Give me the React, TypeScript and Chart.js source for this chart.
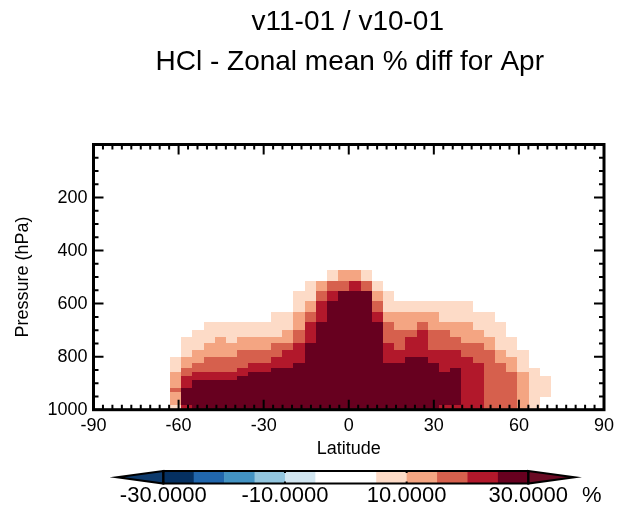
import React, { useEffect, useRef } from 'react';
import { Chart, registerables } from 'chart.js';

Chart.register(...registerables);

const titleLines = ['v11-01 / v10-01', 'HCl - Zonal mean % diff for Apr'];
const xAxisTitle = 'Latitude';
const yAxisTitle = 'Pressure (hPa)';

// latitude cell edges (deg)
const latEdges = [
  -63.0, -59.0, -55.1, -51.2, -47.2, -43.3, -39.3, -35.4, -31.4, -27.5, -23.5, -19.6,
  -15.6, -11.7, -7.7, -3.8, 0.2, 4.2, 8.1, 12.1, 16.0, 20.0, 23.9, 27.9, 31.8, 35.8,
  39.7, 43.7, 47.6, 51.6, 55.5, 59.5, 63.4, 67.4, 71.3,
];

// pressure cell edges (hPa), top to bottom
const pressureEdges = [
  475, 515, 553, 591, 630, 669, 700, 725, 750, 775, 800, 825, 842, 858, 874, 889, 903,
  918, 935, 951, 967, 983, 1000,
];

// colour levels (%)
const levels = [-30, -25, -20, -15, -10, -5, 0, 5, 10, 15, 20, 25, 30];
const levelColors = [
  '#053061', '#2166ac', '#4393c3', '#92c5de', '#d1e5f0', '#ffffff',
  '#ffffff', '#fddbc7', '#f4a582', '#d6604d', '#b2182b', '#67001f',
];
const underColor = '#0d3a6c';
const overColor = '#6a0a24';
const colorbarLabelValues = [-30, -10, 10, 30];
const colorbarLabels = ['-30.0000', '-10.0000', '10.0000', '30.0000'];
const colorbarUnit = '%';

// % difference per latitude cell, listed from the top pressure cell down to 1000 hPa
const diffByLat = [
  [0, 0, 0, 0, 0, 0, 0, 0, 0, 0, 7, 7, 7, 12, 12, 12, 12, 17, 12, 12, 12, 7],
  [0, 0, 0, 0, 0, 0, 0, 7, 7, 7, 12, 12, 17, 17, 22, 22, 22, 27, 27, 27, 27, 22],
  [0, 0, 0, 0, 0, 0, 7, 7, 7, 12, 12, 17, 17, 22, 22, 27, 27, 27, 27, 27, 27, 27],
  [0, 0, 0, 0, 0, 7, 7, 7, 12, 12, 17, 17, 17, 22, 22, 27, 27, 27, 27, 27, 27, 27],
  [0, 0, 0, 0, 0, 7, 7, 12, 12, 12, 17, 17, 17, 22, 22, 27, 27, 27, 27, 27, 27, 27],
  [0, 0, 0, 0, 0, 7, 7, 7, 12, 12, 17, 17, 17, 22, 22, 27, 27, 27, 27, 27, 27, 27],
  [0, 0, 0, 0, 0, 7, 7, 12, 12, 17, 17, 17, 22, 22, 27, 27, 27, 27, 27, 27, 27, 27],
  [0, 0, 0, 0, 0, 7, 7, 12, 12, 17, 17, 22, 22, 27, 27, 27, 27, 27, 27, 27, 27, 27],
  [0, 0, 0, 0, 0, 7, 7, 12, 12, 17, 17, 22, 22, 27, 27, 27, 27, 27, 27, 27, 27, 27],
  [0, 0, 0, 0, 7, 7, 7, 12, 17, 17, 22, 22, 27, 27, 27, 27, 27, 27, 27, 27, 27, 27],
  [0, 0, 0, 0, 7, 7, 12, 12, 17, 22, 22, 22, 27, 27, 27, 27, 27, 27, 27, 27, 27, 27],
  [0, 0, 7, 7, 12, 12, 17, 17, 22, 22, 22, 27, 27, 27, 27, 27, 27, 27, 27, 27, 27, 27],
  [0, 7, 7, 12, 17, 22, 22, 22, 27, 27, 27, 27, 27, 27, 27, 27, 27, 27, 27, 27, 27, 27],
  [0, 12, 17, 22, 22, 27, 27, 27, 27, 27, 27, 27, 27, 27, 27, 27, 27, 27, 27, 27, 27, 27],
  [7, 17, 22, 27, 27, 27, 27, 27, 27, 27, 27, 27, 27, 27, 27, 27, 27, 27, 27, 27, 27, 27],
  [12, 17, 27, 27, 27, 27, 27, 27, 27, 27, 27, 27, 27, 27, 27, 27, 27, 27, 27, 27, 27, 27],
  [12, 22, 27, 27, 27, 27, 27, 27, 27, 27, 27, 27, 27, 27, 27, 27, 27, 27, 27, 27, 27, 27],
  [7, 17, 27, 27, 27, 27, 27, 27, 27, 27, 27, 27, 27, 27, 27, 27, 27, 27, 27, 27, 27, 27],
  [0, 7, 12, 17, 22, 27, 27, 27, 27, 27, 27, 27, 27, 27, 27, 27, 27, 27, 27, 27, 27, 27],
  [0, 0, 7, 7, 12, 17, 17, 17, 22, 22, 22, 27, 27, 27, 27, 27, 27, 27, 27, 27, 27, 27],
  [0, 0, 0, 7, 12, 12, 17, 17, 17, 22, 22, 27, 27, 27, 27, 27, 27, 27, 27, 27, 27, 27],
  [0, 0, 0, 7, 12, 12, 17, 22, 22, 22, 27, 27, 27, 27, 27, 27, 27, 27, 27, 27, 27, 27],
  [0, 0, 0, 7, 12, 17, 22, 22, 22, 22, 27, 27, 27, 27, 27, 27, 27, 27, 27, 27, 27, 27],
  [0, 0, 0, 7, 12, 12, 17, 17, 17, 22, 22, 27, 27, 27, 27, 27, 27, 27, 27, 27, 27, 27],
  [0, 0, 0, 7, 7, 12, 17, 17, 17, 22, 22, 22, 22, 27, 27, 27, 27, 27, 27, 27, 27, 22],
  [0, 0, 0, 7, 7, 12, 12, 17, 17, 22, 22, 22, 27, 27, 27, 27, 27, 27, 27, 27, 27, 22],
  [0, 0, 0, 7, 7, 12, 12, 12, 17, 17, 22, 22, 22, 22, 22, 22, 22, 22, 22, 22, 22, 22],
  [0, 0, 0, 0, 7, 7, 12, 12, 17, 17, 17, 22, 22, 22, 22, 22, 22, 22, 22, 22, 22, 22],
  [0, 0, 0, 0, 7, 7, 7, 12, 12, 17, 17, 17, 17, 17, 17, 17, 17, 17, 17, 17, 17, 17],
  [0, 0, 0, 0, 0, 7, 7, 7, 7, 12, 12, 17, 17, 17, 17, 17, 17, 17, 17, 17, 17, 17],
  [0, 0, 0, 0, 0, 0, 0, 7, 7, 7, 12, 12, 12, 17, 17, 17, 17, 17, 17, 17, 17, 17],
  [0, 0, 0, 0, 0, 0, 0, 0, 0, 7, 7, 7, 7, 12, 12, 12, 12, 12, 12, 12, 12, 12],
  [0, 0, 0, 0, 0, 0, 0, 0, 0, 0, 0, 0, 7, 7, 7, 7, 7, 7, 7, 7, 7, 7],
  [0, 0, 0, 0, 0, 0, 0, 0, 0, 0, 0, 0, 0, 0, 7, 7, 7, 7, 7, 0, 0, 0],
];

const FONT = '"Liberation Sans", Arial, Helvetica, sans-serif';

function colorFor(v: number): string | null {
  if (v < levels[0]) return underColor;
  if (v >= levels[levels.length - 1]) return overColor;
  for (let i = 0; i < levels.length - 1; i++) {
    if (v >= levels[i] && v < levels[i + 1]) {
      const c = levelColors[i];
      return c === '#ffffff' ? null : c;
    }
  }
  return null;
}

const cellPlugin = {
  id: 'cells',
  beforeDatasetsDraw(chart: any) {
    const { ctx, chartArea } = chart;
    const xs = chart.scales.x;
    const ys = chart.scales.y;
    ctx.save();
    ctx.beginPath();
    ctx.rect(chartArea.left, chartArea.top, chartArea.right - chartArea.left, chartArea.bottom - chartArea.top);
    ctx.clip();
    for (let c = 0; c < diffByLat.length; c++) {
      const x0 = Math.round(xs.getPixelForValue(latEdges[c]));
      const x1 = Math.round(xs.getPixelForValue(latEdges[c + 1]));
      const col = diffByLat[c];
      for (let r = 0; r < col.length; r++) {
        const color = colorFor(col[r]);
        if (!color) continue;
        const y0 = Math.round(ys.getPixelForValue(pressureEdges[r]));
        const y1 = Math.round(ys.getPixelForValue(pressureEdges[r + 1]));
        ctx.fillStyle = color;
        ctx.fillRect(x0, y0, x1 - x0, y1 - y0);
      }
    }
    ctx.restore();
  },
};

const decorPlugin = {
  id: 'decor',
  afterDraw(chart: any) {
    const { ctx, chartArea } = chart;
    const xs = chart.scales.x;
    const ys = chart.scales.y;
    const { left, right, top, bottom } = chartArea;
    ctx.save();
    ctx.strokeStyle = '#000';
    ctx.fillStyle = '#000';

    // ticks (inward, on all four sides)
    ctx.lineWidth = 2;
    const major = 10;
    const minor = 5;
    ctx.beginPath();
    for (let i = 0; i <= 54; i++) {
      const v = -90 + (i * 30) / 9;
      const px = xs.getPixelForValue(v);
      const len = i % 9 === 0 ? major : minor;
      ctx.moveTo(px, bottom);
      ctx.lineTo(px, bottom - len);
      ctx.moveTo(px, top);
      ctx.lineTo(px, top + len);
    }
    for (let i = 0; i <= 20; i++) {
      const v = i * 50;
      const py = ys.getPixelForValue(v);
      const len = i % 4 === 0 ? major : minor;
      ctx.moveTo(left, py);
      ctx.lineTo(left + len, py);
      ctx.moveTo(right, py);
      ctx.lineTo(right - len, py);
    }
    ctx.stroke();

    // frame
    ctx.lineWidth = 3;
    ctx.strokeRect(left, top, right - left, bottom - top);

    // titles
    ctx.textAlign = 'center';
    ctx.textBaseline = 'alphabetic';
    ctx.font = `28px ${FONT}`;
    const cx = (left + right) / 2;
    ctx.fillText(titleLines[0], cx - 1, 30);
    ctx.fillText(titleLines[1], cx + 1, 70);

    // colorbar
    const cbL = 163.3;
    const cbR = 528.3;
    const cbT = 471;
    const cbB = 483.5;
    const tipL = 117;
    const tipR = 574.5;
    const cbMid = (cbT + cbB) / 2;
    const cbx = (v: number) => cbL + ((v - levels[0]) / (levels[levels.length - 1] - levels[0])) * (cbR - cbL);
    for (let i = 0; i < levelColors.length; i++) {
      const a = cbx(levels[i]);
      const b = cbx(levels[i + 1]);
      ctx.fillStyle = levelColors[i];
      ctx.fillRect(a, cbT, b - a + 0.5, cbB - cbT);
    }
    ctx.lineWidth = 2;
    ctx.strokeStyle = '#000';
    // left arrow
    ctx.beginPath();
    ctx.moveTo(cbL, cbT);
    ctx.lineTo(tipL, cbMid);
    ctx.lineTo(cbL, cbB);
    ctx.closePath();
    ctx.fillStyle = underColor;
    ctx.fill();
    ctx.stroke();
    // right arrow
    ctx.beginPath();
    ctx.moveTo(cbR, cbT);
    ctx.lineTo(tipR, cbMid);
    ctx.lineTo(cbR, cbB);
    ctx.closePath();
    ctx.fillStyle = overColor;
    ctx.fill();
    ctx.stroke();
    ctx.strokeRect(cbL, cbT, cbR - cbL, cbB - cbT);
    // label ticks
    ctx.beginPath();
    for (const v of colorbarLabelValues) {
      const px = cbx(v);
      ctx.moveTo(px, cbT);
      ctx.lineTo(px, cbT + 2);
      ctx.moveTo(px, cbB);
      ctx.lineTo(px, cbB - 2);
    }
    ctx.stroke();
    ctx.fillStyle = '#000';
    ctx.font = `22px ${FONT}`;
    ctx.textAlign = 'center';
    for (let i = 0; i < colorbarLabels.length; i++) {
      ctx.fillText(colorbarLabels[i], cbx(colorbarLabelValues[i]), 502);
    }
    ctx.textAlign = 'left';
    ctx.fillText(colorbarUnit, 582, 502);
    ctx.restore();
  },
};

export default function App() {
  const ref = useRef<HTMLCanvasElement | null>(null);
  useEffect(() => {
    document.body.style.margin = '0';
    const canvas = ref.current;
    if (!canvas) return;
    const chart = new Chart(canvas, {
      type: 'scatter',
      data: { datasets: [] },
      options: {
        animation: false,
        responsive: false,
        maintainAspectRatio: false,
        devicePixelRatio: 1,
        layout: { padding: { left: 0, right: 30, top: 144.5, bottom: 54.3 } },
        plugins: {
          legend: { display: false },
          tooltip: { enabled: false },
          title: { display: false },
        },
        scales: {
          x: {
            type: 'linear',
            min: -90,
            max: 90,
            grid: { display: false, drawTicks: false },
            border: { display: false },
            ticks: {
              stepSize: 30,
              autoSkip: false,
              maxRotation: 0,
              color: '#000',
              padding: 6,
              font: { family: FONT, size: 18 },
            },
            title: {
              display: true,
              text: xAxisTitle,
              color: '#000',
              padding: 0,
              font: { family: FONT, size: 18 },
            },
            afterFit(scale: any) {
              scale.height = 50;
            },
          },
          y: {
            type: 'linear',
            min: 0,
            max: 1000,
            reverse: true,
            grid: { display: false, drawTicks: false },
            border: { display: false },
            ticks: {
              stepSize: 200,
              autoSkip: false,
              color: '#000',
              padding: 6,
              font: { family: FONT, size: 18 },
              callback: (v: any) => (v === 0 ? '' : String(v)),
            },
            title: {
              display: true,
              text: yAxisTitle,
              color: '#000',
              padding: { top: 12, bottom: 0 },
              font: { family: FONT, size: 18 },
            },
            afterFit(scale: any) {
              scale.width = 93.5;
            },
          },
        },
      },
      plugins: [cellPlugin, decorPlugin],
    } as any);
    return () => chart.destroy();
  }, []);
  return (
    <div style={{ width: 634, height: 514, background: '#fff' }}>
      <canvas ref={ref} width={634} height={514} style={{ display: 'block' }} />
    </div>
  );
}
